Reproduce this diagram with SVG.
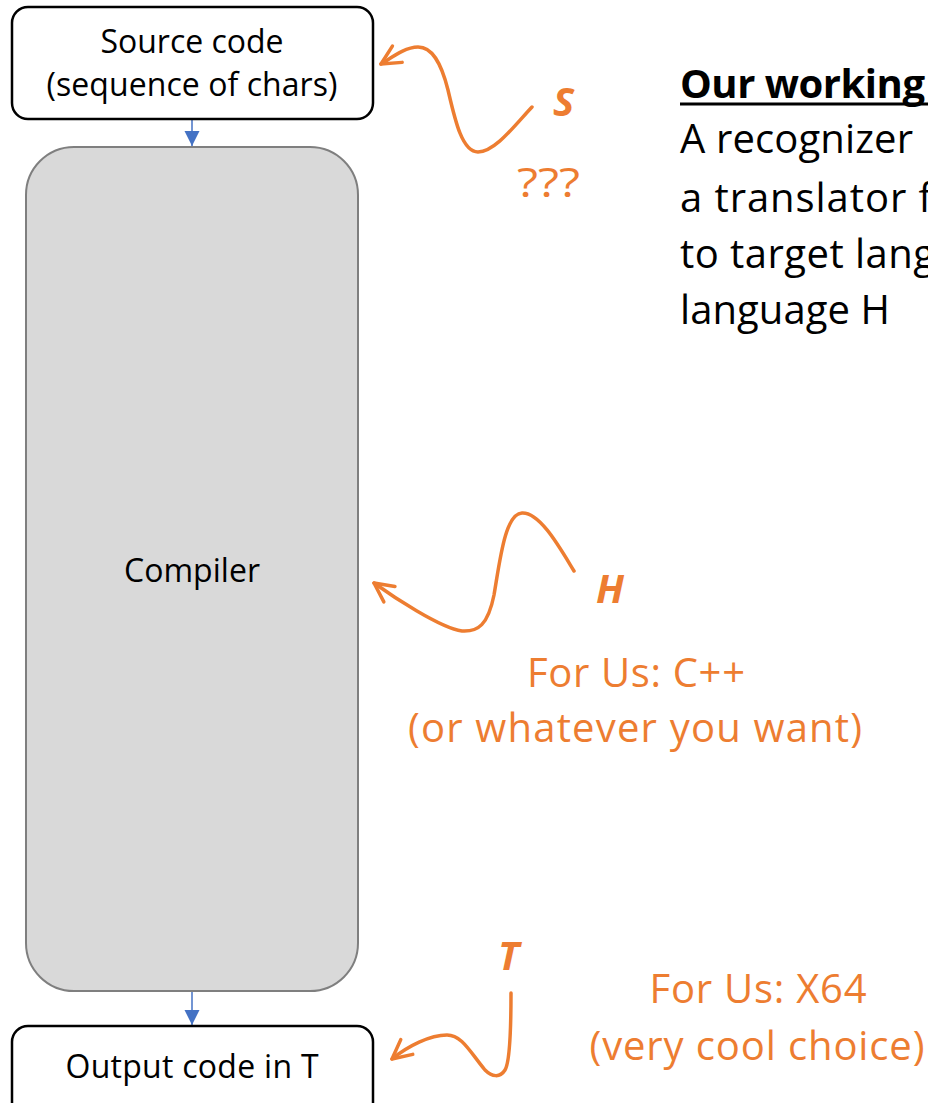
<svg xmlns="http://www.w3.org/2000/svg" width="928" height="1103" viewBox="0 0 928 1103">
  <style>
    .box { fill: #ffffff; stroke: #000000; stroke-width: 2.5; }
    .core { fill: #d9d9d9; stroke: #7f7f7f; stroke-width: 2; }
    .lbl { font-family: "Open Sans", "Liberation Sans", sans-serif; font-size: 32px; fill: #000000; text-anchor: middle; }
    .note { font-family: "Open Sans", "Liberation Sans", sans-serif; font-size: 40px; fill: #000000; }
    .accent { font-family: "Open Sans", "Liberation Sans", sans-serif; font-size: 40px; fill: #ed7d31; }
    .sym { font-family: "Open Sans", "Liberation Sans", sans-serif; font-size: 40px; font-weight: bold; font-style: italic; fill: #ed7d31; }
    .flow { fill: none; stroke: #4472c4; stroke-width: 1.5; }
    .squiggle { fill: none; stroke: #ed7d31; stroke-width: 3.5; stroke-linecap: round; }
  </style>
  <defs>
    <marker id="tri" markerUnits="userSpaceOnUse" viewBox="-16 -9 18 18" refX="0" refY="0" markerWidth="18" markerHeight="18" orient="auto">
      <path d="M-15,-7.5 L0,0 L-15,7.5 Z" fill="#4472c4"/>
    </marker>
    <marker id="vee" markerUnits="userSpaceOnUse" viewBox="-24 -14 28 28" refX="0" refY="0" markerWidth="28" markerHeight="28" orient="auto" overflow="visible">
      <path d="M-19,-9.5 L0,0 L-19,9.5" fill="none" stroke="#ed7d31" stroke-width="3.5" stroke-linecap="round" stroke-linejoin="round"/>
    </marker>
  </defs>

  <!-- pipeline connectors -->
  <g id="connectors">
    <path class="flow" d="M192,120 L192,146" marker-end="url(#tri)"/>
    <path class="flow" d="M192,991 L192,1025" marker-end="url(#tri)"/>
    <path class="squiggle" d="M532,107 C515,125 495,152 478,152 C462,152 455,120 448,90 C441,62 432,47 418,47 C405,47 391,58 381,64" marker-end="url(#vee)"/>
    <path class="squiggle" d="M574,571 C560,548 540,512 522,513 C505,514 500,560 494,595 C488,625 478,632 462,631 C440,628 392,596 374,583" marker-end="url(#vee)"/>
    <path class="squiggle" d="M511,993 C511,1020 510,1062 505,1070 C500,1078 492,1077 485,1070 C470,1052 462,1035 447,1035 C430,1035 408,1046 392,1059" marker-end="url(#vee)"/>
  </g>

  <g id="source">
    <rect class="box" x="12" y="7" width="361" height="112" rx="16"/>
    <text class="lbl" x="192" y="53" textLength="183">Source code</text>
    <text class="lbl" x="192" y="96" textLength="291">(sequence of chars)</text>
  </g>

  <g id="compiler">
    <rect class="core" x="26" y="147" width="332" height="844" rx="48"/>
    <text class="lbl" x="192" y="582" textLength="136">Compiler</text>
  </g>

  <g id="output">
    <rect class="box" x="12" y="1026" width="361" height="100" rx="16"/>
    <text class="lbl" x="192" y="1078" textLength="253">Output code in T</text>
  </g>

  <g id="label-s">
    <text class="sym" x="553" y="116">S</text>
    <text class="accent" x="517" y="197" font-size="44" textLength="63" lengthAdjust="spacingAndGlyphs">???</text>
  </g>

  <g id="label-h">
    <text class="sym" x="596" y="603">H</text>
    <text class="accent" x="636" y="687" text-anchor="middle" textLength="218">For Us: C++</text>
    <text class="accent" x="635" y="742" text-anchor="middle" textLength="454">(or whatever you want)</text>
  </g>

  <g id="label-t">
    <text class="sym" x="498" y="970">T</text>
    <text class="accent" x="758" y="1003" text-anchor="middle" textLength="217">For Us: X64</text>
    <text class="accent" x="757" y="1060" text-anchor="middle" textLength="335">(very cool choice)</text>
  </g>

  <g id="definition">
    <text class="note" x="680" y="98" font-weight="bold" textLength="245">Our working</text>
    <line x1="680" y1="104" x2="928" y2="104" stroke="#000000" stroke-width="3"/>
    <text class="note" x="680" y="153" textLength="233">A recognizer</text>
    <text class="note" x="680" y="212" textLength="252">a translator f</text>
    <text class="note" x="680" y="268" textLength="255">to target lang</text>
    <text class="note" x="680" y="324" textLength="210">language H</text>
  </g>
</svg>
